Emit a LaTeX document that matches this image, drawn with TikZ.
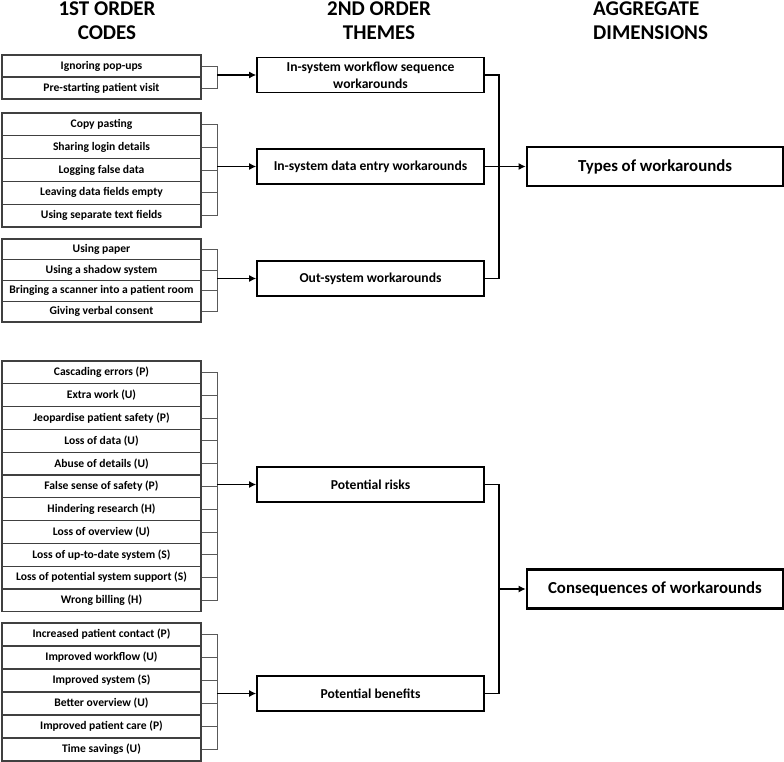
\documentclass[tikz,border=0pt]{standalone}
\usepackage{fontspec}
\setmainfont{Carlito}
\usepackage{xcolor}
\usepackage{tikz}
\usetikzlibrary{arrows.meta}
\tikzstyle{head}=[font=\bfseries\fontsize{21}{24}\selectfont,align=center,inner sep=0pt]
\tikzstyle{code}=[rectangle,draw=black!75,line width=1.1pt,minimum width=199pt,inner sep=0pt,font=\bfseries\fontsize{11.6}{13}\selectfont]
\tikzstyle{theme}=[rectangle,draw=black,line width=1.6pt,minimum width=227pt,minimum height=35pt,inner sep=0pt,align=center,font=\bfseries\fontsize{13.6}{17}\selectfont]
\tikzstyle{dim}=[rectangle,draw=black,line width=2.6pt,minimum width=256pt,minimum height=39pt,inner sep=0pt,font=\bfseries\fontsize{16.8}{19}\selectfont]
\tikzstyle{brace}=[draw=black!65,line width=0.9pt]
\tikzstyle{themelink}=[draw=black,line width=1.6pt]
\tikzstyle{flow}=[draw=black,line width=1.8pt,-{Latex[length=7pt,width=7pt]}]

\begin{document}
\begin{tikzpicture}[x=1pt,y=-1pt]
        \useasboundingbox (0,0) rectangle (784,762);

        % headers
        \node at (107,21) [head]        (h1) {1ST ORDER\\CODES};
        \node at (379,21) [head]        (h2) {2ND ORDER\\THEMES};
        \node at (593,21) [head,anchor=west,align=left] (h3) {AGGREGATE\\DIMENSIONS};

        % 1st order codes
        \node at (101.5,66)    [code,minimum height=22pt]   (c1) {Ignoring pop-ups};
        \node at (101.5,88)    [code,minimum height=22pt]   (c2) {Pre-starting patient visit};

        \node at (101.5,124.4) [code,minimum height=22.8pt] (c3) {Copy pasting};
        \node at (101.5,147.2) [code,minimum height=22.8pt] (c4) {Sharing login details};
        \node at (101.5,170)   [code,minimum height=22.8pt] (c5) {Logging false data};
        \node at (101.5,192.8) [code,minimum height=22.8pt] (c6) {Leaving data fields empty};
        \node at (101.5,215.6) [code,minimum height=22.8pt] (c7) {Using separate text fields};

        \node at (101.5,249.4) [code,minimum height=20.8pt] (c8) {Using paper};
        \node at (101.5,270.1) [code,minimum height=20.8pt] (c9) {Using a shadow system};
        \node at (101.5,290.9) [code,minimum height=20.8pt] (c10) {Bringing a scanner into a patient room};
        \node at (101.5,311.6) [code,minimum height=20.8pt] (c11) {Giving verbal consent};

        \node at (101.5,372.4) [code,minimum height=22.8pt] (r1) {Cascading errors (P)};
        \node at (101.5,395.2) [code,minimum height=22.8pt] (r2) {Extra work (U)};
        \node at (101.5,418)   [code,minimum height=22.8pt] (r3) {Jeopardise patient safety (P)};
        \node at (101.5,440.8) [code,minimum height=22.8pt] (r4) {Loss of data (U)};
        \node at (101.5,463.6) [code,minimum height=22.8pt] (r5) {Abuse of details (U)};
        \node at (101.5,486.4) [code,minimum height=22.8pt] (r6) {False sense of safety (P)};
        \node at (101.5,509.2) [code,minimum height=22.8pt] (r7) {Hindering research (H)};
        \node at (101.5,532)   [code,minimum height=22.8pt] (r8) {Loss of overview (U)};
        \node at (101.5,554.8) [code,minimum height=22.8pt] (r9) {Loss of up-to-date system (S)};
        \node at (101.5,577.6) [code,minimum height=22.8pt] (r10) {Loss of potential system support (S)};
        \node at (101.5,600.4) [code,minimum height=22.8pt] (r11) {Wrong billing (H)};

        \node at (101.5,634.5) [code,minimum height=23pt]   (b1) {Increased patient contact (P)};
        \node at (101.5,657.5) [code,minimum height=23pt]   (b2) {Improved workflow (U)};
        \node at (101.5,680.5) [code,minimum height=23pt]   (b3) {Improved system (S)};
        \node at (101.5,703.5) [code,minimum height=23pt]   (b4) {Better overview (U)};
        \node at (101.5,726.5) [code,minimum height=23pt]   (b5) {Improved patient care (P)};
        \node at (101.5,749.5) [code,minimum height=23pt]   (b6) {Time savings (U)};

        % 2nd order themes
        \node at (370.5,75)    [theme] (t1) {In-system workflow sequence\\workarounds};
        \node at (370.5,166.5) [theme] (t2) {In-system data entry workarounds};
        \node at (370.5,278.5) [theme] (t3) {Out-system workarounds};
        \node at (370.5,484.5) [theme] (t4) {Potential risks};
        \node at (370.5,693.5) [theme] (t5) {Potential benefits};

        % aggregate dimensions
        \node at (655,166.5) [dim] (a1) {Types of workarounds};
        \node at (655,589)   [dim] (a2) {Consequences of workarounds};

        % junction points
        \coordinate (j1) at (217,75);
        \coordinate (j2) at (217,166.5);
        \coordinate (j3) at (217,278.5);
        \coordinate (j4) at (217,484.5);
        \coordinate (j5) at (217,693.5);
        \coordinate (k1) at (499,166.5);
        \coordinate (k2) at (499,589);

        % code brackets
        \draw [brace] (c1.east) -- (c1.east -| j1) -- (c2.east -| j1) -- (c2.east);
        \draw [brace] (c3.east) -- (c3.east -| j2) -- (c7.east -| j2) -- (c7.east);
        \foreach \n in {c4,c5,c6} \draw [brace] (\n.east) -- (\n.east -| j2);
        \draw [brace] (c8.east) -- (c8.east -| j3) -- (c11.east -| j3) -- (c11.east);
        \foreach \n in {c9,c10} \draw [brace] (\n.east) -- (\n.east -| j3);
        \draw [brace] (r1.east) -- (r1.east -| j4) -- (r11.east -| j4) -- (r11.east);
        \foreach \n in {r2,r3,r4,r5,r6,r7,r8,r9,r10} \draw [brace] (\n.east) -- (\n.east -| j4);
        \draw [brace] (b1.east) -- (b1.east -| j5) -- (b6.east -| j5) -- (b6.east);
        \foreach \n in {b2,b3,b4,b5} \draw [brace] (\n.east) -- (\n.east -| j5);

        \draw [flow] (j1) -- (t1);
        \draw [flow] (j2) -- (t2);
        \draw [flow] (j3) -- (t3);
        \draw [flow] (j4) -- (t4);
        \draw [flow] (j5) -- (t5);

        % theme brackets
        \draw [themelink] (t1.east) -- (t1.east -| k1) -- (t3.east -| k1) -- (t3.east);
        \draw [themelink] (t2.east) -- (k1);
        \draw [themelink] (t4.east) -- (t4.east -| k2) -- (t5.east -| k2) -- (t5.east);

        \draw [flow] (k1) -- (a1);
        \draw [flow] (k2) -- (a2);
      \end{tikzpicture}
\end{document}
